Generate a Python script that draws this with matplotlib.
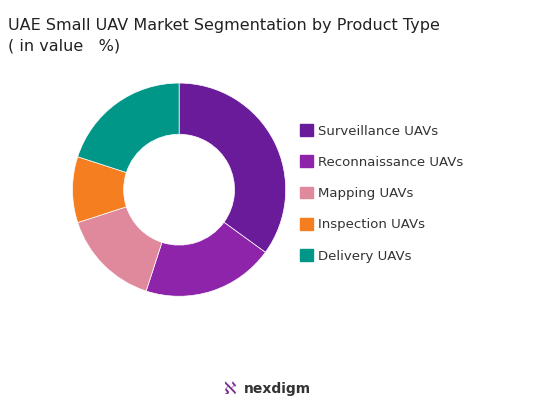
import matplotlib
matplotlib.use("Agg")
import matplotlib.pyplot as plt

labels = ["Surveillance UAVs", "Reconnaissance UAVs", "Mapping UAVs", "Inspection UAVs", "Delivery UAVs"]
values = [35, 20, 15, 10, 20]
colors = ["#6a1b9a", "#8e24aa", "#e0899d", "#f57f20", "#009688"]

fig = plt.figure(figsize=(5.33, 4.07), dpi=100)
ax = fig.add_axes([0.086, 0.204, 0.50, 0.66])
ax.pie(values, colors=colors, startangle=90, counterclock=False,
       wedgeprops=dict(width=0.48, edgecolor="white", linewidth=0.5))
ax.set_aspect("equal")

fig.text(0.015, 0.955, "UAE Small UAV Market Segmentation by Product Type", fontsize=11.5,
         fontweight="medium", color="#222222", va="top")
fig.text(0.015, 0.905, "( in value   %)", fontsize=11.5, color="#222222", va="top")

handles = [plt.Rectangle((0, 0), 1, 1, color=c) for c in colors]
fig.legend(handles, labels, loc="center left", bbox_to_anchor=(0.54, 0.525), frameon=False,
           fontsize=9.5, handlelength=1.0, handleheight=1.0, labelspacing=1.35,
           handletextpad=0.4, labelcolor="#333333")

fig.text(0.52, 0.045, "nexdigm", fontsize=10, color="#333333", ha="center", va="center",
         fontweight="bold")
fig.text(0.43, 0.045, "\u2135", fontsize=12, color="#7b2c8f", ha="center", va="center")

fig.savefig("out.png", dpi=100, facecolor="white")
